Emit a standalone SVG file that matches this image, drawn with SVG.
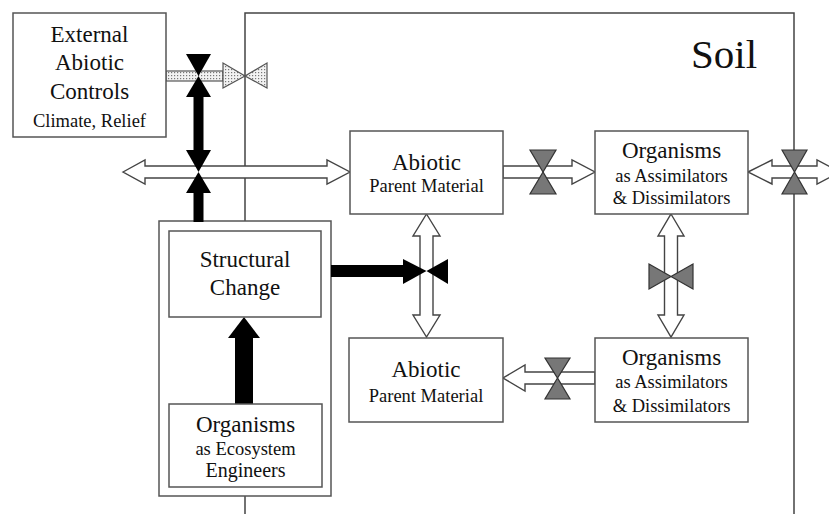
<svg xmlns="http://www.w3.org/2000/svg" width="829" height="514" viewBox="0 0 829 514">
<defs>
<pattern id="dots" width="3" height="3" patternUnits="userSpaceOnUse">
<rect width="3" height="3" fill="#f2f2f2"/>
<rect x="0" y="0" width="1.2" height="1.2" fill="#777"/>
</pattern>
</defs>
<style>
.box{fill:#fff;stroke:#555;stroke-width:1.5}
.wa{fill:#fff;stroke:#444;stroke-width:1.4;stroke-linejoin:miter}
.blk{fill:#000;stroke:none}
.gv{fill:#777;stroke:#333;stroke-width:1.2}
.dv{fill:url(#dots);stroke:#555;stroke-width:1.2}
.t{font-family:"Liberation Serif","Times New Roman",serif;fill:#111;text-anchor:middle}
.big{font-size:23px}
.sm{font-size:18.5px}
</style>
<g id="soil">
<path d="M245,514 V13 H794 V514" fill="none" stroke="#444" stroke-width="1.5"/>
<text class="t" x="724" y="68" font-size="41">Soil</text>
</g>
<g id="outer">
<rect class="box" x="159" y="221" width="172" height="275"/>
</g>
<g id="connectors">
<rect x="166" y="71" width="57" height="10" class="dv"/>
<polygon class="dv" points="223,63 223,88 245,76"/>
<polygon class="dv" points="267,63 267,88 245,76"/>
<polygon class="wa" points="123,172 145,160 145,166 327,166 327,160 350,172 327,184 327,178 145,178 145,184"/>
<polygon class="wa" points="503,166 572,166 572,160 595,172 572,184 572,178 503,178"/>
<polygon class="wa" points="748,172 772,160 772,166 817,166 817,160 840,172 817,184 817,178 772,178 772,184"/>
<polygon class="wa" points="595,372 525,372 525,365 503,378 525,391 525,384 595,384"/>
<polygon class="wa" points="426.5,214 440,236 433,236 433,315 440,315 426.5,337 413,315 420,315 420,236 413,236"/>
<polygon class="wa" points="671,214 684,236 677.5,236 677.5,315 684,315 671,337 658,315 664.5,315 664.5,236 658,236"/>
<polygon class="blk" points="186,54 211,54 198.5,76"/>
<polygon class="blk" points="198.5,76 186,97 211,97"/>
<rect class="blk" x="193.5" y="96" width="10" height="55"/>
<polygon class="blk" points="186,150 211,150 198.5,172"/>
<polygon class="blk" points="198.5,172 186,193 211,193"/>
<rect class="blk" x="193.5" y="192" width="10" height="30"/>
<rect class="blk" x="331" y="265" width="73" height="12"/>
<polygon class="blk" points="403,259 426.5,271 403,284"/>
<polygon class="blk" points="448,259 448,284 426.5,271"/>
<polygon class="blk" points="244,317 260,338 228,338"/>
<rect class="blk" x="235" y="337" width="18" height="67"/>
<polygon class="gv" points="530,150 556,150 543,172"/>
<polygon class="gv" points="543,172 530,194 556,194"/>
<polygon class="gv" points="782,150 807,150 794.5,172"/>
<polygon class="gv" points="794.5,172 782,194 807,194"/>
<polygon class="gv" points="545,358 570,358 557.5,378"/>
<polygon class="gv" points="557.5,378 545,399 570,399"/>
<polygon class="gv" points="649,264 649,289 671,276.5"/>
<polygon class="gv" points="693,264 693,289 671,276.5"/>
</g>
<g id="external">
<rect class="box" x="13" y="13" width="153" height="124"/>
<text class="t big" x="89.5" y="42">External</text>
<text class="t big" x="89.5" y="70">Abiotic</text>
<text class="t big" x="89.5" y="99">Controls</text>
<text class="t sm" x="89.5" y="127">Climate, Relief</text>
</g>
<g id="structural">
<rect class="box" x="169" y="231" width="152" height="86"/>
<text class="t big" x="245" y="267">Structural</text>
<text class="t big" x="245" y="295">Change</text>
</g>
<g id="engineers">
<rect class="box" x="169" y="404" width="153" height="83"/>
<text class="t big" x="245.5" y="432">Organisms</text>
<text class="t sm" x="245.5" y="455">as Ecosystem</text>
<text class="t" x="245.5" y="477" font-size="20">Engineers</text>
</g>
<g id="abiotic1">
<rect class="box" x="350" y="131" width="153" height="83"/>
<text class="t big" x="426.5" y="170">Abiotic</text>
<text class="t sm" x="426.5" y="192">Parent Material</text>
</g>
<g id="organisms1">
<rect class="box" x="595" y="131" width="153" height="83"/>
<text class="t big" x="671.5" y="158">Organisms</text>
<text class="t sm" x="671.5" y="182">as Assimilators</text>
<text class="t sm" x="671.5" y="204">&amp; Dissimilators</text>
</g>
<g id="abiotic2">
<rect class="box" x="349" y="338" width="154" height="84"/>
<text class="t big" x="426" y="377">Abiotic</text>
<text class="t sm" x="426" y="402">Parent Material</text>
</g>
<g id="organisms2">
<rect class="box" x="595" y="338" width="153" height="84"/>
<text class="t big" x="671.5" y="365">Organisms</text>
<text class="t sm" x="671.5" y="388">as Assimilators</text>
<text class="t sm" x="671.5" y="412">&amp; Dissimilators</text>
</g>
</svg>
